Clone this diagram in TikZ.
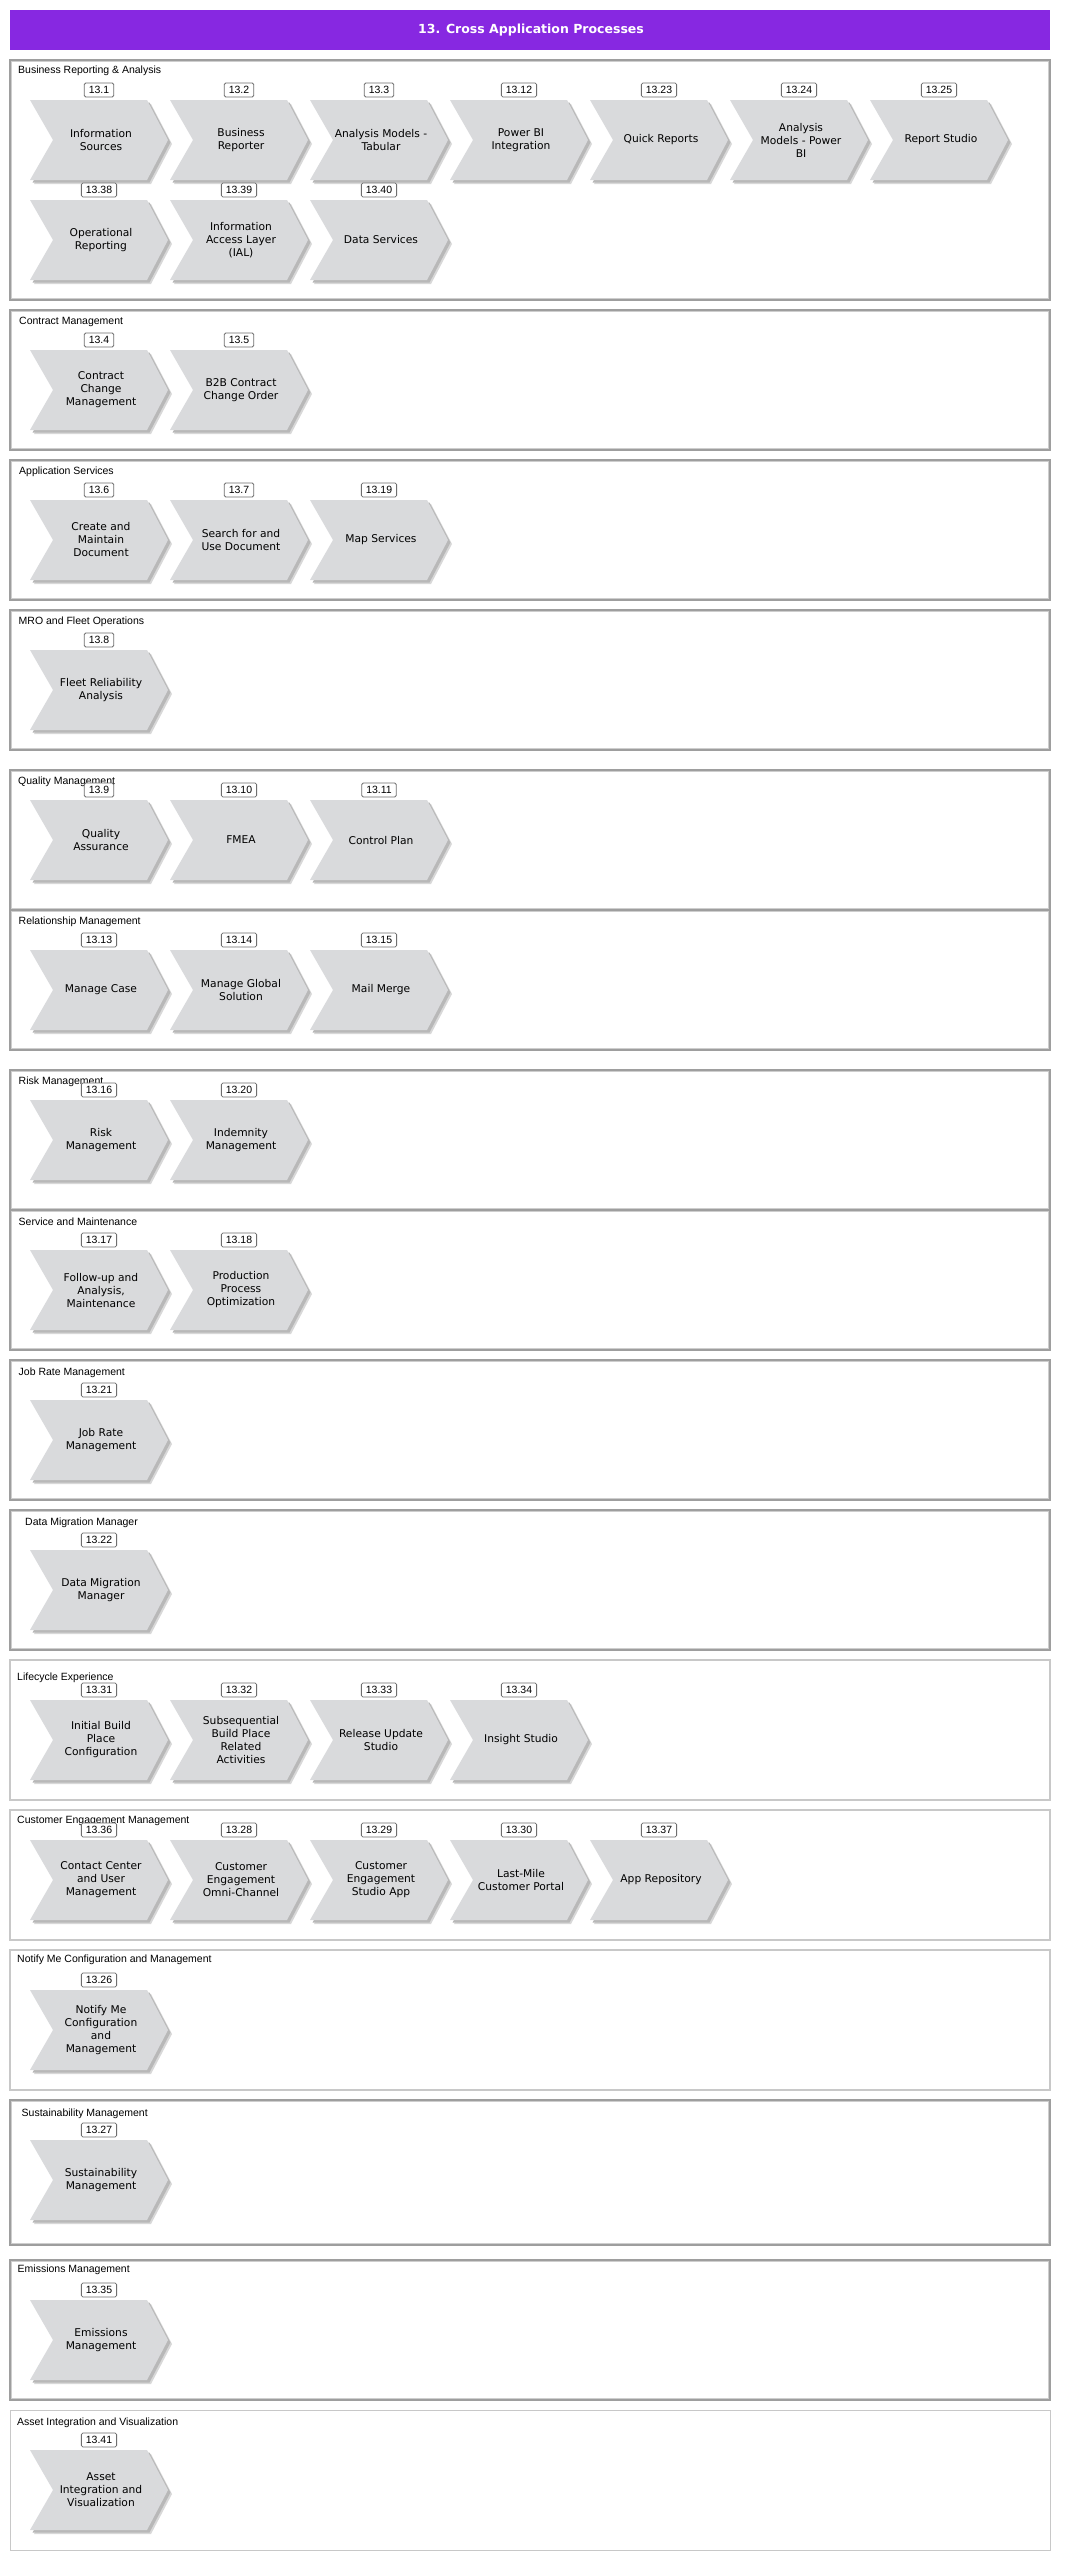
\documentclass[tikz,border=0pt]{standalone}
\usepackage{fontspec}
\setmainfont{Liberation Sans}
\newfontfamily\chevfont{DejaVu Sans}
\definecolor{purp}{RGB}{135,40,225}
\definecolor{chevfill}{RGB}{217,218,220}
\definecolor{chevshadow}{RGB}{184,184,184}
\definecolor{boxline}{RGB}{158,158,158}
\definecolor{boxinner}{RGB}{206,206,206}
\definecolor{boxlinelight}{RGB}{200,200,200}
\definecolor{numline}{RGB}{110,110,110}
\tikzset{
  chevtext/.style={font=\chevfont\fontsize{10.7}{13}\selectfont, align=center, inner sep=0pt, text=black},
  numbox/.style={draw=numline, fill=white, rounded corners=1.5pt, line width=0.8pt, font=\fontsize{10.5}{12}\selectfont, inner xsep=4.5pt, inner ysep=0pt, minimum height=14pt},
  seclabel/.style={anchor=west, font=\fontsize{10.5}{12}\selectfont, inner sep=0pt},
  secbox/.style={draw=boxline, line width=1.6pt},
  secinner/.style={draw=boxinner, line width=1pt},
  secboxlight/.style={draw=boxlinelight, line width=2.5pt},
  secboxthin/.style={draw=boxlinelight, line width=1pt},
  titlebar/.style={fill=purp, draw=none},
  titletext/.style={font=\chevfont\bfseries\fontsize{12.5}{14}\selectfont, text=white, inner sep=0pt},
}
\newcommand\secrect[2]{%
  \draw[secbox] (10,#1) rectangle (1050,#2);
  \draw[secinner] (11.8,#1+1.8) rectangle (1048.2,#2-1.8);
}
\newcommand\chevitem[5]{%
  \fill[chevshadow!55] (#2+4,#3+4) -- ++(117,0) -- ++(21,40) -- ++(-21,40) -- ++(-117,0) -- ++(23,-40) -- cycle;
  \fill[chevshadow] (#2+2.5,#3+2.5) -- ++(117,0) -- ++(21,40) -- ++(-21,40) -- ++(-117,0) -- ++(23,-40) -- cycle;
  \fill[chevfill] (#2,#3) -- ++(117,0) -- ++(21,40) -- ++(-21,40) -- ++(-117,0) -- ++(23,-40) -- cycle;
  \node[chevtext] (#1) at (#2+71,#3+40) {#5};
  \node[numbox] (#1n) at (#2+69,#3-10) {#4};
}
\begin{document}
\begin{tikzpicture}[x=1pt,y=-1pt]
\useasboundingbox[fill=white] (0,0) rectangle (1065,2560);
% title
\fill[titlebar] (10,10) rectangle (1050,50);
\node[titletext] (title) at (531,30) {13. Cross Application Processes};

% section boxes
\secrect{60}{300}
\secrect{310}{450}
\secrect{460}{600}
\secrect{610}{750}
\secrect{770}{910}
\secrect{910}{1050}
\secrect{1070}{1210}
\secrect{1210}{1350}
\secrect{1360}{1500}
\secrect{1510}{1650}
\draw[secboxlight] (10,1660) rectangle (1050,1800);
\draw[secboxlight] (10,1810) rectangle (1050,1940);
\draw[secboxlight] (10,1950) rectangle (1050,2090);
\secrect{2100}{2245}
\secrect{2260}{2400}
\draw[secboxthin] (10,2410) rectangle (1050,2550);

% section labels
\node[seclabel] (l1) at (18,71) {Business Reporting \& Analysis};
\node[seclabel] (l2) at (19,322) {Contract Management};
\node[seclabel] (l3) at (19,472) {Application Services};
\node[seclabel] (l4) at (18.5,622) {MRO and Fleet Operations};
\node[seclabel] (l5) at (18,782) {Quality Management};
\node[seclabel] (l6) at (18.5,922) {Relationship Management};
\node[seclabel] (l7) at (18.5,1082) {Risk Management};
\node[seclabel] (l8) at (18.5,1222) {Service and Maintenance};
\node[seclabel] (l9) at (18.5,1373) {Job Rate Management};
\node[seclabel] (l10) at (25,1523) {Data Migration Manager};
\node[seclabel] (l11) at (17,1678) {Lifecycle Experience};
\node[seclabel] (l12) at (17,1821) {Customer Engagement Management};
\node[seclabel] (l13) at (17,1960) {Notify Me Configuration and Management};
\node[seclabel] (l14) at (21.5,2114) {Sustainability Management};
\node[seclabel] (l15) at (17.5,2270) {Emissions Management};
\node[seclabel] (l16) at (17,2423) {Asset Integration and Visualization};

% Business Reporting & Analysis
\chevitem{a1}{30}{100}{13.1}{Information\\Sources}
\chevitem{a2}{170}{100}{13.2}{Business\\Reporter}
\chevitem{a3}{310}{100}{13.3}{Analysis Models -\\Tabular}
\chevitem{a4}{450}{100}{13.12}{Power BI\\Integration}
\chevitem{a5}{590}{100}{13.23}{Quick Reports}
\chevitem{a6}{730}{100}{13.24}{Analysis\\Models - Power\\BI}
\chevitem{a7}{870}{100}{13.25}{Report Studio}
\chevitem{a8}{30}{200}{13.38}{Operational\\Reporting}
\chevitem{a9}{170}{200}{13.39}{Information\\Access Layer\\(IAL)}
\chevitem{a10}{310}{200}{13.40}{Data Services}
% Contract Management
\chevitem{b1}{30}{350}{13.4}{Contract\\Change\\Management}
\chevitem{b2}{170}{350}{13.5}{B2B Contract\\Change Order}
% Application Services
\chevitem{c1}{30}{500}{13.6}{Create and\\Maintain\\Document}
\chevitem{c2}{170}{500}{13.7}{Search for and\\Use Document}
\chevitem{c3}{310}{500}{13.19}{Map Services}
% MRO
\chevitem{d1}{30}{650}{13.8}{Fleet Reliability\\Analysis}
% Quality
\chevitem{e1}{30}{800}{13.9}{Quality\\Assurance}
\chevitem{e2}{170}{800}{13.10}{FMEA}
\chevitem{e3}{310}{800}{13.11}{Control Plan}
% Relationship
\chevitem{f1}{30}{950}{13.13}{Manage Case}
\chevitem{f2}{170}{950}{13.14}{Manage Global\\Solution}
\chevitem{f3}{310}{950}{13.15}{Mail Merge}
% Risk
\chevitem{g1}{30}{1100}{13.16}{Risk\\Management}
\chevitem{g2}{170}{1100}{13.20}{Indemnity\\Management}
% Service and Maintenance
\chevitem{h1}{30}{1250}{13.17}{Follow-up and\\Analysis,\\Maintenance}
\chevitem{h2}{170}{1250}{13.18}{Production\\Process\\Optimization}
% Job Rate
\chevitem{i1}{30}{1400}{13.21}{Job Rate\\Management}
% Data Migration
\chevitem{j1}{30}{1550}{13.22}{Data Migration\\Manager}
% Lifecycle
\chevitem{k1}{30}{1700}{13.31}{Initial Build\\Place\\Configuration}
\chevitem{k2}{170}{1700}{13.32}{Subsequential\\Build Place\\Related\\Activities}
\chevitem{k3}{310}{1700}{13.33}{Release Update\\Studio}
\chevitem{k4}{450}{1700}{13.34}{Insight Studio}
% Customer Engagement
\chevitem{m1}{30}{1840}{13.36}{Contact Center\\and User\\Management}
\chevitem{m2}{170}{1840}{13.28}{Customer\\Engagement\\Omni-Channel}
\chevitem{m3}{310}{1840}{13.29}{Customer\\Engagement\\Studio App}
\chevitem{m4}{450}{1840}{13.30}{Last-Mile\\Customer Portal}
\chevitem{m5}{590}{1840}{13.37}{App Repository}
% Notify Me
\chevitem{n1}{30}{1990}{13.26}{Notify Me\\Configuration\\and\\Management}
% Sustainability
\chevitem{p1}{30}{2140}{13.27}{Sustainability\\Management}
% Emissions
\chevitem{q1}{30}{2300}{13.35}{Emissions\\Management}
% Asset Integration
\chevitem{r1}{30}{2450}{13.41}{Asset\\Integration and\\Visualization}
\end{tikzpicture}
\end{document}
